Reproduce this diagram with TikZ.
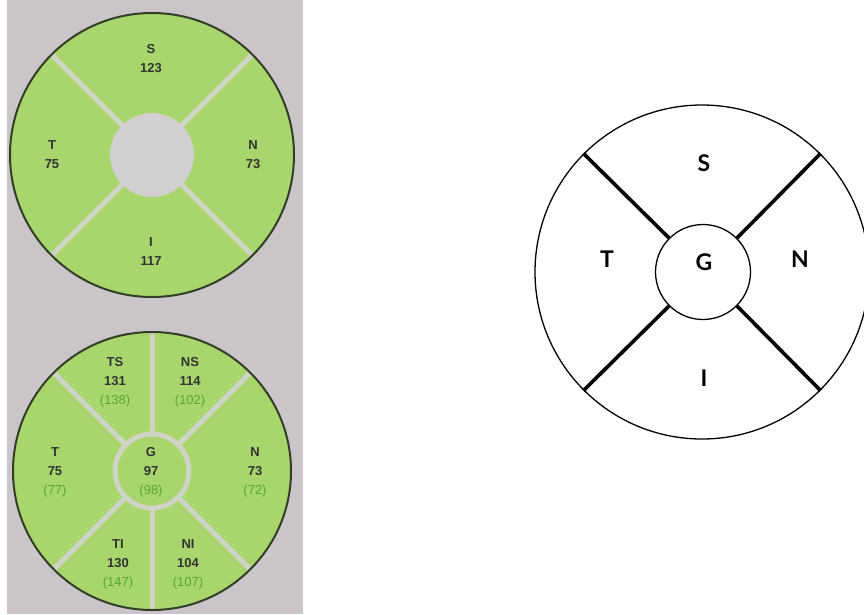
\documentclass[tikz,border=0pt]{standalone}
\usepackage{fontspec}
\setsansfont{Liberation Sans}
\newfontfamily\schemafont{Lato}
\usetikzlibrary{calc}
\definecolor{panelgrey}{RGB}{201,197,201}
\definecolor{discgrey}{RGB}{210,207,208}
\definecolor{mapgreen}{RGB}{168,214,108}
\definecolor{seamgrey}{RGB}{208,212,196}
\definecolor{rimdark}{RGB}{50,62,38}
\definecolor{normgreen}{RGB}{84,168,52}
\newcommand{\norm}[1]{\textcolor{normgreen}{\mdseries(#1)}}

\tikzset{
  thick value/.style={font=\sffamily\bfseries\fontsize{13}{19}\selectfont, align=center, text=black!80},
  sector/.style={font=\schemafont\bfseries\fontsize{23}{26}\selectfont},
  seam/.style={seamgrey, line width=5pt},
  spoke/.style={line width=3.6pt},
}

\begin{document}
\begin{tikzpicture}[x=1pt, y=-1pt]
  \useasboundingbox (0,0) rectangle (864,614);
  % photo of the printout
  \fill[panelgrey] (7,0) rectangle (303,614);

  % Map A -- four quadrants
  \coordinate (ca) at (152,155);
  \fill[mapgreen] (ca) circle (142);
  \foreach \a in {45,135,225,315}
    \draw[seam] (ca) -- ++(\a:142);
  \fill[discgrey] (ca) circle (42);
  \draw[rimdark, line width=2pt] (ca) circle (142);
  \node[thick value] (as) at (151,59)  {S\\123};
  \node[thick value] (at) at (52,155)  {T\\75};
  \node[thick value] (an) at (253,155) {N\\73};
  \node[thick value] (ai) at (151,252) {I\\117};

  % Map B -- six sectors and centre
  \coordinate (cb) at (152,471);
  \fill[mapgreen] (cb) circle (139);
  \foreach \a in {45,90,135,225,270,315}
    \draw[seam] (cb) -- ++(\a:139);
  \draw[seam, fill=mapgreen] (cb) circle (37);
  \draw[rimdark, line width=2pt] (cb) circle (139);
  \node[thick value] (bts) at (115,382) {TS\\131\\\norm{138}};
  \node[thick value] (bns) at (190,382) {NS\\114\\\norm{102}};
  \node[thick value] (bt)  at (55,472)  {T\\75\\\norm{77}};
  \node[thick value] (bg)  at (151,472) {G\\97\\\norm{98}};
  \node[thick value] (bn)  at (255,472) {N\\73\\\norm{72}};
  \node[thick value] (bti) at (118,564) {TI\\130\\\norm{147}};
  \node[thick value] (bni) at (188,564) {NI\\104\\\norm{107}};

  % Schema -- plain outline
  \node[circle, draw, line width=1.3pt, minimum size=334pt, inner sep=0pt] (rim) at (702,272) {};
  \node[circle, draw, line width=1.3pt, minimum size=95pt, inner sep=0pt] (fovea) at (703,272) {};
  \foreach \a in {45,135,225,315}
    \draw[spoke] (fovea.\a) -- (rim.\a);
  \node[sector] (ls) at (704,163) {S};
  \node[sector] (lt) at (607,259) {T};
  \node[sector] (lg) at (704,262) {G};
  \node[sector] (ln) at (800,259) {N};
  \node[sector] (li) at (704,378) {I};
\end{tikzpicture}
\end{document}
